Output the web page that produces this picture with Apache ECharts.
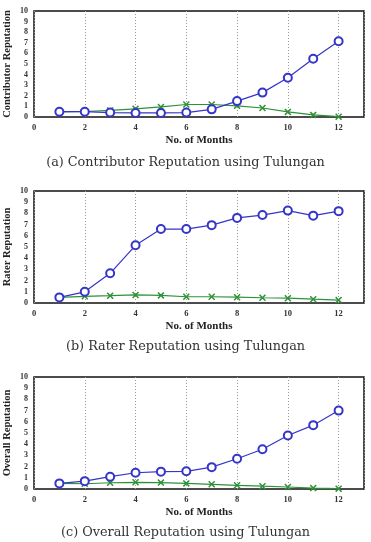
<!DOCTYPE html>
<html>
<head>
<meta charset="utf-8">
<script src="https://cdn.jsdelivr.net/npm/echarts@6/dist/echarts.min.js"></script>
<style>
  html, body { margin: 0; padding: 0; background: #fff; }
  #chart { width: 371px; height: 542px; }
</style>
</head>
<body>
<div id="chart"></div>
<script>
// months on the x axis
const months = [1, 2, 3, 4, 5, 6, 7, 8, 9, 10, 11, 12];

// (a) contributor reputation
const contribBlue = [0.5, 0.5, 0.42, 0.38, 0.38, 0.42, 0.72, 1.5, 2.3, 3.7, 5.5, 7.15];
const contribGreen = [0.48, 0.52, 0.62, 0.77, 0.95, 1.18, 1.18, 1.05, 0.85, 0.48, 0.2, 0.03];

// (b) rater reputation
const raterBlue = [0.5, 1.0, 2.65, 5.15, 6.6, 6.6, 6.95, 7.6, 7.85, 8.25, 7.8, 8.2];
const raterGreen = [0.5, 0.6, 0.65, 0.72, 0.68, 0.56, 0.56, 0.52, 0.47, 0.43, 0.34, 0.26];

// (c) overall reputation
const overallBlue = [0.5, 0.7, 1.1, 1.45, 1.55, 1.58, 1.95, 2.7, 3.55, 4.78, 5.7, 7.0];
const overallGreen = [0.5, 0.47, 0.56, 0.6, 0.57, 0.5, 0.42, 0.33, 0.25, 0.18, 0.08, 0.03];

const yTicks = [0, 10];
const xTicks = [0, 13];

const yNames = ['Contributor Reputation', 'Rater Reputation', 'Overall Reputation'];
const captions = [
  '(a) Contributor Reputation using Tulungan',
  '(b) Rater Reputation using Tulungan',
  '(c) Overall Reputation using Tulungan'
];
const panels = [
  [contribBlue, contribGreen],
  [raterBlue, raterGreen],
  [overallBlue, overallGreen]
];

const BLUE = '#3535c8';
const GREEN = '#2e9138';
const CROSS = 'path://M0,1.5L1.5,0L5,3.5L8.5,0L10,1.5L6.5,5L10,8.5L8.5,10L5,6.5L1.5,10L0,8.5L3.5,5Z';
const serif = '"Liberation Serif", "DejaVu Serif", serif';

// layout of each panel
const grids = [
  { left: 34, right: 7, top: 11, height: 106 },
  { left: 34, right: 7, top: 191, height: 112 },
  { left: 34, right: 7, top: 377, height: 112 }
];
const captionTop = [151, 335, 521];

const chart = echarts.init(document.getElementById('chart'));

const xAxes = [], yAxes = [], series = [], titles = [];
grids.forEach((g, i) => {
  xAxes.push({
    gridIndex: i,
    type: 'value',
    min: xTicks[0],
    max: xTicks[1],
    interval: 2,
    name: 'No. of Months',
    nameLocation: 'middle',
    nameGap: 18,
    nameTextStyle: { fontFamily: serif, fontWeight: 'bold', fontSize: 11, color: '#222' },
    axisLine: { show: false },
    axisTick: { show: false },
    axisLabel: { fontFamily: serif, fontWeight: 'bold', fontSize: 8.5, color: '#333', margin: 6, showMaxLabel: false },
    splitLine: { show: true, lineStyle: { color: '#999', type: [1, 2], width: 1 } }
  });
  yAxes.push({
    gridIndex: i,
    type: 'value',
    min: yTicks[0],
    max: yTicks[1],
    interval: 1,
    name: yNames[i],
    nameLocation: 'middle',
    nameGap: 21,
    nameMoveOverlap: false,
    nameTextStyle: { fontFamily: serif, fontWeight: 'bold', fontSize: 10.5, color: '#222' },
    axisLine: { show: false },
    axisTick: { show: false },
    axisLabel: { fontFamily: serif, fontWeight: 'bold', fontSize: 8, color: '#333', margin: 6 },
    splitLine: { show: false }
  });
  const [blue, green] = panels[i];
  series.push({
    type: 'line',
    xAxisIndex: i,
    yAxisIndex: i,
    data: months.map((m, k) => [m, green[k]]),
    symbol: CROSS,
    symbolSize: 7,
    lineStyle: { color: GREEN, width: 1.2 },
    itemStyle: { color: GREEN },
    z: 2
  });
  series.push({
    type: 'line',
    xAxisIndex: i,
    yAxisIndex: i,
    data: months.map((m, k) => [m, blue[k]]),
    symbol: 'emptyCircle',
    symbolSize: 8,
    showAllSymbol: true,
    lineStyle: { color: BLUE, width: 1.2 },
    itemStyle: { color: BLUE, borderWidth: 0.9 },
    z: 3
  });
  titles.push({
    text: captions[i],
    left: 'center',
    top: captionTop[i],
    textStyle: { fontFamily: '"DejaVu Serif", serif', fontWeight: 'normal', fontSize: 12.8, color: '#333' }
  });
});

chart.setOption({
  animation: false,
  title: titles,
  grid: grids.map(g => Object.assign({ show: true, borderColor: '#111', borderWidth: 1.5, outerBoundsMode: 'none' }, g)),
  xAxis: xAxes,
  yAxis: yAxes,
  series: series
});
</script>
</body>
</html>
